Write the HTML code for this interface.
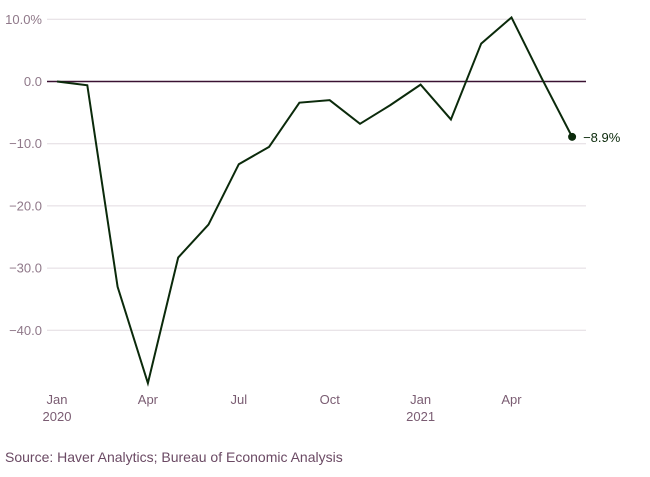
<!DOCTYPE html>
<html><head><meta charset="utf-8"><style>
body{margin:0;background:#fff;font-family:"Liberation Sans",sans-serif;}
svg text{font-family:"Liberation Sans",sans-serif;}
</style></head><body>
<svg id="chart" width="650" height="472" xmlns="http://www.w3.org/2000/svg">
<g id="grid"></g><g id="xaxis"></g><g id="series"></g>
<text x="5" y="462" font-size="14" fill="#6b4a64">Source: Haver Analytics; Bureau of Economic Analysis</text>
</svg>
<script>
const months = ["Jan 2020","Feb","Mar","Apr","May","Jun","Jul","Aug","Sep","Oct","Nov","Dec","Jan 2021","Feb","Mar","Apr","May","Jun"];
const values = [0,-0.6,-33,-48.5,-28.3,-23,-13.3,-10.5,-3.4,-3.0,-6.8,-3.8,-0.5,-6.1,6.1,10.3,0.5,-8.9];
const yTicks = [10,0,-10,-20,-30,-40];
const yTickLabels = ["10.0%","0.0","−10.0","−20.0","−30.0","−40.0"];
const xTickIdx = [0,3,6,9,12,15];
const xTickLabels = ["Jan","Apr","Jul","Oct","Jan","Apr"];
const xTickYears = ["2020","","","","2021",""];
const lastLabel = "−8.9%";
const NS="http://www.w3.org/2000/svg";
const x = i => 57 + i*30.3;
const y = v => 81.5 - v*6.22;
function mk(tag, attrs, parent){const e=document.createElementNS(NS,tag);for(const k in attrs)e.setAttribute(k,attrs[k]);parent.appendChild(e);return e;}
const grid=document.getElementById('grid');
yTicks.forEach((t,i)=>{
  const l=mk('line',{x1:47,x2:586,y1:y(t),y2:y(t),stroke:t===0?'#3a1232':'#e2dbe0','stroke-width':t===0?1.5:1},grid);
  
  
  const tx=mk('text',{x:42,y:y(t)+4.5,'text-anchor':'end','font-size':13,fill:'#8f7889'},grid);
  tx.textContent=yTickLabels[i];
  
  
});
const xa=document.getElementById('xaxis');
xTickIdx.forEach((m,i)=>{
  const t=mk('text',{x:x(m),y:404,'text-anchor':'middle','font-size':13,fill:'#7a5c72'},xa);
  t.textContent=xTickLabels[i];
  
  
  if(xTickYears[i]){
    const t2=mk('text',{x:x(m),y:421,'text-anchor':'middle','font-size':13,fill:'#7a5c72'},xa);
    t2.textContent=xTickYears[i];
    
    
  }
});
const s=document.getElementById('series');
const p=mk('polyline',{points:values.map((v,i)=>x(i)+','+y(v)).join(' '),fill:'none',stroke:'#0b2a0b','stroke-width':2,'stroke-linejoin':'miter'},s);


const n=values.length-1;
const c=mk('circle',{cx:x(n),cy:y(values[n]),r:4,fill:'#0b2a0b'},s);


const lt=mk('text',{x:x(n)+11,y:y(values[n])+5,'font-size':13,fill:'#0b2a0b'},s);
lt.textContent=lastLabel;


</script>
</body></html>
